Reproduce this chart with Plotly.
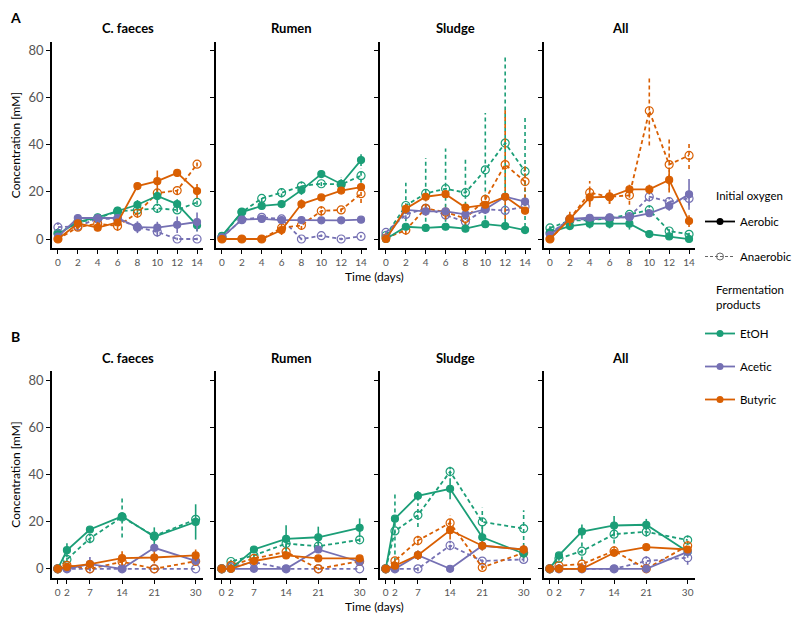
import plotly.graph_objects as go

# sampling days
days_a = [0, 2, 4, 6, 8, 10, 12, 14]
days_b = [0, 2, 7, 14, 21, 30]
facets = ["C. faeces", "Rumen", "Sludge", "All"]
products = ["EtOH", "Acetic", "Butyric"]
colors = {"EtOH": "#1B9E77", "Acetic": "#7570B3", "Butyric": "#D95F02"}

# ---- Panel A: mean concentrations (mM) ----
a_faeces_aer = {"EtOH": [2, 7.3, 9.2, 12, 14.5, 18.2, 14.8, 5.8],
                "Acetic": [1, 8.9, 8.9, 8.9, 5, 4.8, 6, 7.2],
                "Butyric": [0, 6.6, 4.8, 7, 22.4, 24.5, 28, 20.3]}
a_faeces_ana = {"EtOH": [2.4, 7, 8.8, 11.7, 12.3, 13, 12.3, 15.5],
                "Acetic": [5, 5.5, 8.5, 8.5, 5, 3, 0, 0],
                "Butyric": [0, 5, 6.5, 5.5, 11, 19.5, 20.5, 31.7]}
a_rumen_aer = {"EtOH": [1.3, 11.4, 14, 14.8, 20.7, 27.5, 23.3, 33.4],
               "Acetic": [0.7, 8.2, 8.5, 8, 8, 7.9, 7.9, 8.2],
               "Butyric": [0, 0, 0, 3.8, 14.8, 17.6, 20.5, 22]}
a_rumen_ana = {"EtOH": [1, 11.4, 17.2, 19.6, 22.4, 23.4, 23.1, 26.8],
               "Acetic": [0.7, 8.2, 9.2, 8.5, 0, 1.4, 0, 1.1],
               "Butyric": [0, 0, 0, 4.7, 5.8, 11.9, 12.3, 19.2]}
a_sludge_aer = {"EtOH": [0, 5.2, 4.7, 5.2, 4.4, 6.3, 5.5, 3.8],
                "Acetic": [0.3, 12.3, 11.7, 11.7, 10.4, 12.6, 17.9, 15.8],
                "Butyric": [0, 12.8, 17.9, 19, 13.3, 14.5, 17.9, 12]}
a_sludge_ana = {"EtOH": [1.5, 14.2, 19.3, 21.3, 19.6, 29.3, 40.6, 28.6],
                "Acetic": [2.8, 10.4, 13, 10.2, 7.3, 12.6, 12.1, 13.7],
                "Butyric": [0.4, 3.8, 13, 11.4, 8.7, 16.8, 31.5, 24.3]}
a_all_aer = {"EtOH": [2.8, 5.5, 6.5, 6.5, 6.5, 2.1, 1.1, 0],
             "Acetic": [1.7, 8.5, 9, 9.2, 9.2, 10.9, 14, 18.9],
             "Butyric": [0, 8.5, 17.6, 17.9, 21, 21, 25, 7.6]}
a_all_ana = {"EtOH": [4.7, 7.8, 8, 8.7, 10.4, 12.3, 3.4, 2],
             "Acetic": [2.4, 8.3, 8.3, 8.7, 9.5, 17.9, 15.8, 17.2],
             "Butyric": [0, 8.5, 19.6, 17.9, 18.5, 54.3, 31.5, 35.4]}

# Panel A: standard deviations
a_faeces_aer_sd = {"EtOH": [1, 1, 1, 1, 2, 3, 2, 2.5],
                   "Acetic": [1, 1, 1, 1, 2.5, 2.5, 3.5, 4],
                   "Butyric": [0.5, 1, 1, 1, 1, 4.5, 1.5, 3]}
a_faeces_ana_sd = {"EtOH": [1, 1, 1, 1, 1, 2, 1, 1],
                   "Acetic": [2, 2, 1, 1, 1, 2, 0.5, 0.5],
                   "Butyric": [0.5, 1, 1, 2, 2, 3, 1.5, 1]}
a_rumen_aer_sd = {"EtOH": [1, 1, 1, 1, 2, 1.5, 2, 2.5],
                  "Acetic": [0.5, 0.5, 0.5, 0.5, 0.5, 0.5, 0.5, 0.5],
                  "Butyric": [0, 0, 0, 1, 2, 1, 1, 1.5]}
a_rumen_ana_sd = {"EtOH": [1, 1, 1.5, 2, 2, 1, 3, 3],
                  "Acetic": [0.5, 0.5, 0.5, 0.5, 0.5, 0.5, 0.5, 0.5],
                  "Butyric": [0, 0, 0, 3, 2, 2, 1, 4]}
a_sludge_aer_sd = {"EtOH": [0.5, 1, 1, 1, 1, 1, 1, 1],
                   "Acetic": [1, 1, 1, 1, 1, 1, 1, 1],
                   "Butyric": [0.5, 2, 1.5, 1.5, 1, 1, 1, 1.5]}
a_sludge_ana_sd = {"EtOH": [1, 9.6, 15, 17, 14.4, 24, 36.6, 23.5],
                   "Acetic": [1, 2, 3, 2, 2, 2, 1, 2],
                   "Butyric": [0.5, 2, 3, 3, 3, 3, 23, 7]}
a_all_aer_sd = {"EtOH": [1, 1, 2, 2, 2.5, 1, 1, 1],
                "Acetic": [1, 1, 1, 1, 1, 1, 2, 6.5],
                "Butyric": [0.5, 3, 4, 3, 2, 2, 4, 2.5]}
a_all_ana_sd = {"EtOH": [1, 1, 1, 1, 1, 2, 1, 1],
                "Acetic": [1, 1, 1, 1, 1, 2, 2, 3],
                "Butyric": [0.5, 2, 5, 3, 4, 14.7, 11.8, 5.8]}

# ---- Panel B: mean concentrations (mM) ----
b_faeces_aer = {"EtOH": [0, 7.9, 16.7, 22.3, 13.6, 19.9],
                "Acetic": [0, 0, 2, 0, 8.9, 3.4],
                "Butyric": [0, 0.8, 2, 4.5, 4.8, 5.7]}
b_faeces_ana = {"EtOH": [0, 4, 12.9, 22, 13.9, 21],
                "Acetic": [0, 0, 0, 0, 0, 0],
                "Butyric": [0, 1.5, 0, 3, 0, 3.2]}
b_rumen_aer = {"EtOH": [0, 0, 8.2, 12.7, 13.4, 17.4],
               "Acetic": [0, 0, 0, 0, 8.2, 3],
               "Butyric": [0, 0, 3.3, 5.7, 4.4, 4.4]}
b_rumen_ana = {"EtOH": [0, 3.1, 5.7, 10.7, 9.6, 12.3],
               "Acetic": [0, 0.8, 2.8, 0, 0, 0],
               "Butyric": [0, 1.5, 4.4, 7.2, 0, 3.2]}
b_sludge_aer = {"EtOH": [0, 21.3, 31, 34, 13.4, 6.5],
                "Acetic": [0, 0, 5.8, 0, 9.8, 8.2],
                "Butyric": [0, 1.3, 5.8, 16.4, 9.8, 8.2]}
b_sludge_ana = {"EtOH": [0, 16.1, 22.8, 41.3, 19.9, 17.1],
                "Acetic": [0, 0, 0, 9.9, 3.3, 4],
                "Butyric": [0, 3.4, 12, 19.5, 0.6, 6.8]}
b_all_aer = {"EtOH": [0, 5.7, 15.8, 18.4, 18.7, 7.2],
             "Acetic": [0, 0, 0, 0, 0, 7.2],
             "Butyric": [0, 0, 0, 6.8, 9.2, 8.2]}
b_all_ana = {"EtOH": [0, 4.4, 7.5, 14.7, 15.7, 12.2],
             "Acetic": [0, 0, 0, 0, 3.3, 4.7],
             "Butyric": [0, 1.3, 2, 7.6, 0, 9.8]}

# Panel B: standard deviations
b_faeces_aer_sd = {"EtOH": [0, 3, 1, 1.5, 4, 7.5],
                   "Acetic": [0, 0.5, 3, 0.5, 1, 1],
                   "Butyric": [0, 1, 1, 3, 2.5, 2.5]}
b_faeces_ana_sd = {"EtOH": [0, 1, 2, 8.7, 1, 1],
                   "Acetic": [0, 0, 0, 0, 0, 0],
                   "Butyric": [0, 1, 1, 1, 0.5, 1]}
b_rumen_aer_sd = {"EtOH": [0, 0.5, 1.5, 5.8, 4.5, 4],
                  "Acetic": [0, 0, 0, 0, 1.5, 1],
                  "Butyric": [0, 0, 1, 1.5, 1, 1]}
b_rumen_ana_sd = {"EtOH": [0, 1, 1.5, 2, 2, 1],
                  "Acetic": [0, 0.5, 1, 0, 0, 0],
                  "Butyric": [0, 0.5, 1, 2, 0.5, 1]}
b_sludge_aer_sd = {"EtOH": [0, 1, 2, 4.5, 4.5, 2],
                   "Acetic": [0, 0, 2, 0, 2, 1],
                   "Butyric": [0, 1, 2, 4, 2, 2]}
b_sludge_ana_sd = {"EtOH": [0, 16, 5, 2, 6, 7.8],
                   "Acetic": [0, 0, 1, 2, 1, 1],
                   "Butyric": [0, 1, 2, 3, 1, 2]}
b_all_aer_sd = {"EtOH": [0, 1, 3, 4, 2.5, 1],
                "Acetic": [0, 0, 0, 0, 0, 1],
                "Butyric": [0, 0, 0, 1.5, 1, 1]}
b_all_ana_sd = {"EtOH": [0, 1, 4, 4, 2, 2],
                "Acetic": [0, 0, 0, 0, 2, 3],
                "Butyric": [0, 1, 1, 2, 0.5, 2]}

panel_a = [(a_faeces_aer, a_faeces_aer_sd, a_faeces_ana, a_faeces_ana_sd),
           (a_rumen_aer, a_rumen_aer_sd, a_rumen_ana, a_rumen_ana_sd),
           (a_sludge_aer, a_sludge_aer_sd, a_sludge_ana, a_sludge_ana_sd),
           (a_all_aer, a_all_aer_sd, a_all_ana, a_all_ana_sd)]
panel_b = [(b_faeces_aer, b_faeces_aer_sd, b_faeces_ana, b_faeces_ana_sd),
           (b_rumen_aer, b_rumen_aer_sd, b_rumen_ana, b_rumen_ana_sd),
           (b_sludge_aer, b_sludge_aer_sd, b_sludge_ana, b_sludge_ana_sd),
           (b_all_aer, b_all_aer_sd, b_all_ana, b_all_ana_sd)]

W, H = 800, 617
OFF = 8  # default <body> margin of the html page
FONT = "Lato"
DASH = "4px,3px"


def fx(px):
    # screen pixel -> paper x
    return (px - OFF) / W


def fy(py):
    # screen pixel -> paper y
    return 1 - (py - OFF) / H


fig = go.Figure()


def add_series(days, mean, sd, color, dashed, xa, ya):
    # error bars as vertical segments so they can be dashed like ggplot
    ex, ey = [], []
    for d, m, s in zip(days, mean, sd):
        if s > 0:
            ex += [d, d, None]
            ey += [m - s, m + s, None]
    fig.add_trace(go.Scatter(
        x=ex, y=ey, mode="lines", xaxis=xa, yaxis=ya, showlegend=False,
        hoverinfo="skip",
        line=dict(color=color, width=1.6, dash=DASH if dashed else "solid")))
    fig.add_trace(go.Scatter(
        x=days, y=mean, mode="lines+markers", xaxis=xa, yaxis=ya,
        showlegend=False,
        line=dict(color=color, width=1.8, dash=DASH if dashed else "solid"),
        marker=dict(symbol="circle-open" if dashed else "circle",
                    size=8 if dashed else 7, color=color,
                    line=dict(color=color, width=1.2))))


def label(x, y, text, size=12, xanchor="center", align="center"):
    fig.add_annotation(x=fx(x), y=fy(y), xref="paper", yref="paper", text=text,
                       showarrow=False, xanchor=xanchor, yanchor="middle", align=align,
                       font=dict(size=size, color="black", family=FONT))


# facet positions in screen pixels
lefts = [52, 216, 380, 544]
width = 151

for p, (panel, days, xr, yr, ydom, ttl_y, lab, lab_y) in enumerate([
        (panel_a, days_a, [-0.6, 14.6], [-3.8, 83.4], (42, 248), 28, "A", 17),
        (panel_b, days_b, [-1.25, 31.6], [-3.9, 84], (371, 578), 358, "B", 336)]):
    for f in range(4):
        n = p * 4 + f + 1
        xa, ya = "x%d" % n, "y%d" % n
        aer, aer_sd, ana, ana_sd = panel[f]
        for prod in products:
            add_series(days, ana[prod], ana_sd[prod], colors[prod], True, xa, ya)
        for prod in products:
            add_series(days, aer[prod], aer_sd[prod], colors[prod], False, xa, ya)

        sfx = "" if n == 1 else str(n)
        fig.layout["xaxis" + sfx] = dict(
            domain=[fx(lefts[f]), fx(lefts[f] + width)], range=xr, anchor=ya,
            tickvals=days, automargin=False,
            showline=True, linecolor="black", linewidth=1.5,
            ticks="outside", ticklen=4, tickcolor="black",
            tickfont=dict(size=10, color="#555555", family=FONT),
            showgrid=False, zeroline=False, fixedrange=True)
        fig.layout["yaxis" + sfx] = dict(
            domain=[fy(ydom[1]), fy(ydom[0])], range=yr, anchor=xa,
            tickvals=[0, 20, 40, 60, 80],
            showticklabels=(f == 0), automargin=False,
            showline=True, linecolor="black", linewidth=1.5,
            ticks="outside", ticklen=4, tickcolor="black",
            tickfont=dict(size=13, color="#555555", family=FONT),
            showgrid=False, zeroline=False, fixedrange=True,
            title=dict(text="Concentration [mM]" if f == 0 else "",
                       font=dict(size=12, color="black", family=FONT),
                       standoff=6))
        label(lefts[f] + width / 2, ttl_y, "<b>%s</b>" % facets[f], size=13)
    label(15, lab_y, "<b>%s</b>" % lab, size=14)
    label(374, ydom[1] + 28, "Time (days)")

# legend titles
label(714, 195, "Initial oxygen", size=11.5, xanchor="left", align="left")
label(714, 297, "Fermentation<br>products", size=11.5, xanchor="left", align="left")

# legend entries: each in its own group so tracegroupgap spaces the items
fig.add_trace(go.Scatter(x=[None], y=[None], mode="lines+markers", name="Aerobic",
                         legend="legend", legendgroup="aer",
                         line=dict(color="black", width=1.8),
                         marker=dict(symbol="circle", size=7, color="black")))
fig.add_trace(go.Scatter(x=[None], y=[None], mode="lines+markers", name="Anaerobic",
                         legend="legend", legendgroup="ana",
                         line=dict(color="#666666", width=1.2, dash="3px,2px"),
                         marker=dict(symbol="circle-open", size=7, color="#666666")))
for prod in products:
    fig.add_trace(go.Scatter(x=[None], y=[None], mode="lines+markers", name=prod,
                             legend="legend2", legendgroup=prod,
                             line=dict(color=colors[prod], width=1.8),
                             marker=dict(symbol="circle", size=7, color=colors[prod])))

leg = dict(xanchor="left", yanchor="top", bgcolor="rgba(0,0,0,0)",
           itemwidth=30, font=dict(size=11.5, family=FONT))
fig.update_layout(
    width=W, height=H,
    margin=dict(l=0, r=0, t=0, b=0),
    paper_bgcolor="white", plot_bgcolor="white",
    font=dict(family=FONT, size=12, color="black"),
    showlegend=True,
    legend=dict(leg, x=fx(700), y=fy(207), tracegroupgap=16),
    legend2=dict(leg, x=fx(700), y=fy(319), tracegroupgap=14),
)

fig.write_html("out.html")
